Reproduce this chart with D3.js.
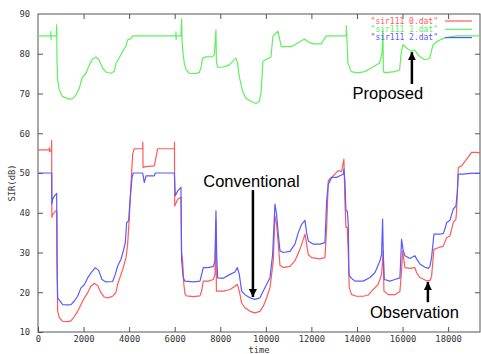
<!DOCTYPE html>
<html><head><meta charset="utf-8">
<script src="https://cdn.jsdelivr.net/npm/d3@7"></script>
<style>body{margin:0;background:#fff}svg{display:block}</style>
</head><body>
<svg id="c" width="481" height="354"></svg>
<script>
const xTicks = [0,2000,4000,6000,8000,10000,12000,14000,16000,18000];
const yTicks = [10,20,30,40,50,60,70,80,90];
const seriesNames = ['"sir111 0.dat"','"sir111 1.dat"','"sir111 2.dat"'];
const seriesColors = ["#ff5a5a","#5ef05e","#5a5aff"];

// series 0 (red): [time, SIR]
const red = [[0,55.8],[480,55.8],[500,56.3],[510,55.4],[590,55.8],[600,58.2],[610,38.8],[650,39.6],[717,40.1],[800,40.5],[830,40.3],[845,23.7],[863,15.2],[936,13.6],[1083,12.7],[1302,12.6],[1448,12.8],[1595,13.9],[1741,15.2],[1887,16.9],[2034,18.6],[2180,19.9],[2326,21.6],[2473,22.2],[2619,21.7],[2765,19.9],[2911,18.8],[3058,18.6],[3277,19.0],[3423,20.0],[3496,22.0],[3643,24.5],[3745,26.2],[3862,28.7],[3935,32.1],[4008,38.8],[4082,47.2],[4155,54.8],[4228,56.1],[4594,56.1],[4600,57.8],[4610,51.4],[4740,51.6],[5106,51.8],[5180,54.0],[5252,56.1],[5984,56.1],[5990,57.8],[6000,41.7],[6130,43.4],[6276,43.9],[6300,30.0],[6349,27.9],[6400,22.0],[6450,19.6],[6523,19.1],[6816,18.9],[7109,19.1],[7182,20.3],[7255,22.8],[7475,22.8],[7694,23.2],[7767,24.5],[7811,38.0],[7830,20.3],[7884,20.3],[8133,20.3],[8426,20.7],[8645,21.5],[8748,22.0],[8836,20.3],[8938,17.3],[9084,16.1],[9304,15.2],[9523,14.8],[9742,15.2],[9889,16.5],[10035,18.6],[10181,21.1],[10327,27.9],[10400,39.2],[10473,37.1],[10547,32.1],[10620,26.8],[10766,26.2],[11059,26.5],[11278,27.9],[11497,30.8],[11644,33.3],[11717,34.6],[11790,32.1],[11863,29.5],[12010,28.7],[12376,28.4],[12595,28.7],[12669,36.3],[12742,48.1],[12961,49.3],[13180,50.6],[13325,50.4],[13427,53.5],[13471,43.0],[13515,36.3],[13574,36.3],[13618,30.0],[13662,21.1],[13764,19.4],[13983,19.0],[14276,19.0],[14495,19.3],[14715,20.7],[14934,22.0],[15081,24.5],[15154,30.4],[15183,20.3],[15373,19.4],[15666,19.4],[15885,20.2],[15958,25.4],[16002,30.4],[16105,26.2],[16324,26.0],[16544,26.2],[16617,24.9],[16763,23.7],[17056,22.9],[17202,22.9],[17275,24.0],[17378,30.8],[17568,31.2],[17787,31.6],[17934,33.7],[18080,34.2],[18227,37.5],[18344,38.4],[18373,40.5],[18417,46.4],[18446,51.4],[18592,51.8],[18812,53.5],[19031,55.2],[19251,55.2],[19441,55.0]];

// series 1 (green)
const green = [[0,84.5],[560,84.5],[565,85.6],[572,83.6],[578,84.5],[800,84.5],[819,87.3],[835,78.0],[863,73.4],[936,70.9],[1082,69.2],[1375,68.6],[1521,68.7],[1667,69.6],[1814,71.3],[1931,73.9],[2106,75.1],[2252,77.2],[2399,78.7],[2545,79.2],[2691,78.3],[2838,76.4],[2984,75.4],[3203,75.1],[3350,75.6],[3423,77.6],[3569,79.0],[3715,80.6],[3861,82.0],[3935,83.5],[4081,83.8],[4154,84.5],[6050,84.5],[6055,85.5],[6062,83.6],[6068,84.5],[6275,84.5],[6304,88.8],[6320,84.0],[6348,81.0],[6421,77.6],[6494,76.0],[6641,75.1],[6933,75.0],[7079,75.3],[7152,76.5],[7226,78.9],[7372,79.2],[7664,79.3],[7738,79.8],[7811,86.0],[7830,78.0],[7884,76.6],[8103,76.6],[8396,77.2],[8688,78.9],[8761,77.5],[8834,74.3],[8981,70.5],[9127,68.8],[9346,68.0],[9566,67.5],[9712,68.0],[9790,70.1],[9873,78.1],[10100,78.8],[10224,79.2],[10312,84.4],[10531,85.7],[10676,81.8],[10825,81.8],[11115,81.8],[11264,82.2],[11483,83.0],[11703,83.7],[11850,83.0],[12100,82.5],[12431,82.5],[12650,84.5],[13528,84.5],[13535,87.1],[13603,77.7],[13748,75.5],[14042,75.2],[14336,75.5],[14625,76.4],[14994,77.7],[15100,80.0],[15139,86.0],[15160,76.0],[15183,75.3],[15358,75.3],[15652,75.5],[15871,75.9],[15942,80.2],[16016,82.3],[16161,81.5],[16381,80.6],[16530,81.0],[16674,79.7],[16968,78.5],[17188,78.8],[17333,82.2],[17552,83.2],[17846,84.0],[18136,84.3],[18430,84.5],[19439,84.5]];

// series 2 (blue)
const blue = [[0,50.0],[600,50.0],[605,42.2],[644,43.4],[717,44.2],[819,44.9],[834,27.9],[863,18.6],[936,18.0],[1083,16.9],[1302,16.8],[1448,16.9],[1595,17.8],[1741,19.0],[1887,21.1],[2034,21.9],[2180,23.6],[2326,24.9],[2516,26.2],[2663,25.5],[2809,23.2],[2984,22.6],[3277,22.7],[3394,24.5],[3496,26.6],[3643,28.3],[3745,30.4],[3833,32.5],[3891,37.5],[3979,38.0],[4038,43.0],[4126,48.9],[4184,50.0],[4594,50.0],[4667,47.6],[4740,49.3],[5106,49.3],[5150,50.0],[5984,50.0],[6027,44.3],[6130,45.5],[6276,46.4],[6304,27.9],[6377,23.6],[6450,22.8],[6816,22.6],[7109,22.8],[7182,24.5],[7255,26.2],[7475,26.2],[7694,26.5],[7767,27.9],[7811,40.5],[7840,30.0],[7884,23.6],[8133,23.5],[8426,24.5],[8645,25.1],[8748,26.2],[8836,24.5],[8938,20.3],[9084,19.4],[9304,18.6],[9523,18.2],[9742,18.6],[9889,20.3],[10035,22.0],[10181,23.6],[10298,29.5],[10400,42.2],[10473,39.6],[10547,34.6],[10620,30.4],[10766,30.0],[11059,30.3],[11278,32.1],[11424,35.0],[11571,37.1],[11717,38.1],[11790,35.0],[11863,32.9],[12083,32.1],[12376,32.1],[12595,32.5],[12669,43.0],[12742,47.2],[12888,48.9],[13107,48.9],[13252,49.3],[13398,49.7],[13427,51.0],[13471,48.0],[13515,40.5],[13574,40.5],[13618,37.1],[13647,24.5],[13720,23.7],[13910,22.8],[14276,22.8],[14569,23.7],[14788,24.9],[15008,27.9],[15081,29.5],[15125,38.4],[15154,30.0],[15198,23.2],[15446,22.8],[15666,23.2],[15885,23.6],[15958,33.3],[16032,30.4],[16105,29.2],[16324,28.5],[16544,29.2],[16617,28.4],[16763,27.1],[16983,26.3],[17129,26.0],[17202,26.5],[17275,28.7],[17378,34.6],[17495,34.6],[17641,34.6],[17787,34.8],[17861,35.9],[17934,37.5],[18080,38.1],[18227,40.9],[18344,41.7],[18402,45.0],[18446,49.7],[18665,49.7],[18958,49.9],[19441,50.0]];

// annotations: text position, arrow from -> to (data units)
const annoTexts = ["Conventional","Proposed","Observation"];
const annoTextPos = [[9368,46.5],[15358,68.6],[16521,13.5]];
const annoArrows = [[[9434,45.7],[9434,18.8]],[[16411,72.4],[16411,80.4]],[[17113,17.5],[17113,22.6]]];

const svg = d3.select("#c");
const L=38, R=480, T=14, B=332;
const x = d3.scaleLinear().domain([0,19400]).range([L,R]);
const y = d3.scaleLinear().domain([10,90]).range([B,T]);
const mono = "'DejaVu Sans Mono', monospace";

svg.append("defs").append("clipPath").attr("id","clip")
  .append("rect").attr("x",L).attr("y",T).attr("width",R-L).attr("height",B-T);

// frame
svg.append("rect").attr("x",L).attr("y",T).attr("width",R-L).attr("height",B-T)
  .attr("fill","none").attr("stroke","#555").attr("stroke-width",1);

// axes with inward ticks
const gx = svg.append("g").attr("transform",`translate(0,${B})`)
  .call(d3.axisBottom(x).tickValues(xTicks).tickSize(-5).tickPadding(4).tickFormat(d3.format("d")));
const gxt = svg.append("g").attr("transform",`translate(0,${T})`)
  .call(d3.axisTop(x).tickValues(xTicks.slice(1)).tickSize(-5).tickFormat(""));
const gy = svg.append("g").attr("transform",`translate(${L},0)`)
  .call(d3.axisLeft(y).tickValues(yTicks).tickSize(-5).tickPadding(8));
const gyr = svg.append("g").attr("transform",`translate(${R},0)`)
  .call(d3.axisRight(y).tickValues(yTicks.slice(1,-1)).tickSize(-5).tickFormat(""));
[gx,gxt,gy,gyr].forEach(g=>{
  g.select(".domain").remove();
  g.selectAll(".tick line").attr("stroke","#555");
  g.selectAll("text").attr("font-family",mono).attr("font-size","8.8px").attr("fill","#333");
});
gy.selectAll(".tick").filter(d=>d===90).select("line").remove();

// axis titles
svg.append("text").attr("x",(L+R)/2).attr("y",353).attr("text-anchor","middle")
  .attr("font-family",mono).attr("font-size","8.8px").attr("fill","#333").text("time");
svg.append("text").attr("transform",`translate(15,${(T+B)/2+10}) rotate(-90)`).attr("text-anchor","middle")
  .attr("font-family",mono).attr("font-size","8.8px").attr("fill","#333").text("SIR(dB)");

// lines
const line = d3.line().x(d=>x(d[0])).y(d=>y(d[1]));
const plot = svg.append("g").attr("clip-path","url(#clip)");
[red,green,blue].forEach((s,i)=>{
  plot.append("path").datum(s).attr("d",line).attr("fill","none")
    .attr("stroke",seriesColors[i]).attr("stroke-width",1.2).attr("stroke-linejoin","round");
});

// legend
const lg = svg.append("g");
seriesNames.forEach((n,i)=>{
  const yy = 21 + i*8.3;
  lg.append("text").attr("x",438).attr("y",yy+2.5).attr("text-anchor","end")
    .attr("font-family",mono).attr("font-size","8px").attr("fill",seriesColors[i]).text(n);
  lg.append("line").attr("x1",445).attr("x2",472).attr("y1",yy).attr("y2",yy)
    .attr("stroke",seriesColors[i]).attr("stroke-width",1.2);
});

// annotations
const defs = svg.select("defs");
defs.append("marker").attr("id","ah").attr("viewBox","0 0 10 10").attr("refX",10).attr("refY",5)
  .attr("markerWidth",3.2).attr("markerHeight",3.2).attr("orient","auto")
  .append("path").attr("d","M0,0L10,5L0,10Z").attr("fill","#000");
annoTexts.forEach((t,i)=>{
  svg.append("text").attr("x",x(annoTextPos[i][0])).attr("y",y(annoTextPos[i][1]))
    .attr("text-anchor","middle").attr("font-family","'Liberation Sans', Arial, sans-serif")
    .attr("font-size","16.5px").attr("fill","#000").text(t);
  const a = annoArrows[i];
  svg.append("line").attr("x1",x(a[0][0])).attr("y1",y(a[0][1])).attr("x2",x(a[1][0])).attr("y2",y(a[1][1]))
    .attr("stroke","#000").attr("stroke-width",2.5).attr("marker-end","url(#ah)");
});
</script>
</body></html>
